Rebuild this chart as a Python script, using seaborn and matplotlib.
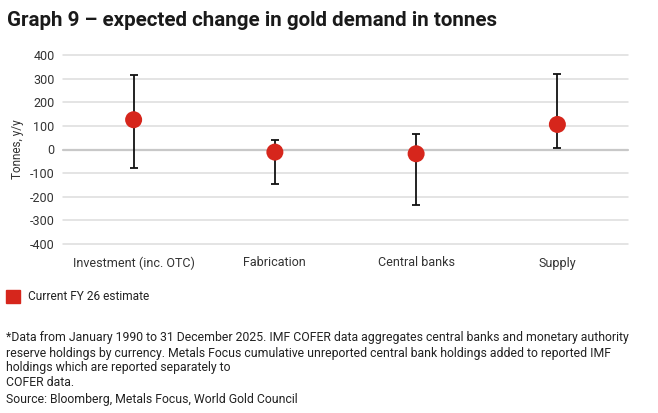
import matplotlib
matplotlib.use("Agg")
import matplotlib.pyplot as plt
import seaborn as sns
import pandas as pd
import numpy as np

categories = ["Investment (inc. OTC)", "Fabrication", "Central banks", "Supply"]
estimate = [126, -11, -18, 106]
upper = [315, 42, 64, 321]
lower = [-79, -145, -233, 7]
yticks = [-400, -300, -200, -100, 0, 100, 200, 300, 400]

sns.set_theme(style="white")
plt.rcParams['font.family'] = ['Roboto', 'DejaVu Sans']

df = pd.DataFrame({"category": categories, "estimate": estimate,
                   "upper": upper, "lower": lower})

fig = plt.figure(figsize=(6.58, 4.13), dpi=100)
ax = fig.add_axes([63/658, 1-244/413, 565/658, 189/413])

red = "#d6261c"
for t in yticks:
    ax.axhline(t, color="#c8c8c8" if t == 0 else "#dcdcdc", lw=1.6 if t == 0 else 1.1,
               zorder=0, clip_on=False)

xpos = np.arange(len(categories))
ax.errorbar(xpos, df["estimate"],
            yerr=[df["estimate"] - df["lower"], df["upper"] - df["estimate"]],
            fmt="none", ecolor="#111111", elinewidth=1.3, capsize=3, capthick=1.3, zorder=2)
sns.scatterplot(data=df, x="category", y="estimate", ax=ax, color=red, s=150,
                edgecolor="none", zorder=3, legend=False)

ax.set_xlim(-0.5, 3.5)
ax.set_ylim(-400, 400)
ax.set_yticks(yticks)
ax.set_yticklabels([str(t) for t in yticks])
ax.set_xticks(xpos)
ax.set_xticklabels(categories)
ax.tick_params(axis="both", length=0, labelsize=9, colors="#333333")
ax.tick_params(axis="y", pad=6)
ax.tick_params(axis="x", pad=9)
for s in ax.spines.values():
    s.set_visible(False)
ax.set_xlabel("")
ax.set_ylabel("Tonnes, y/y", fontsize=8.5, color="#333333", labelpad=4)

fig.text(7/658, 1-20/413, "Graph 9 \u2013 expected change in gold demand in tonnes",
         fontsize=14.8, fontweight="bold", color="#1a1a1a", va="center", ha="left")

fig.patches.append(matplotlib.patches.Rectangle((6/658, 1-303/413), 14/658, 13/413,
                   transform=fig.transFigure, color=red))
fig.text(28/658, 1-297/413, "Current FY 26 estimate", fontsize=8.6, color="#222222",
         va="center", ha="left")

foot = ["*Data from January 1990 to 31 December 2025. IMF COFER data aggregates central banks and monetary authority",
        "reserve holdings by currency. Metals Focus cumulative unreported central bank holdings added to reported IMF",
        "holdings which are reported separately to",
        "COFER data.",
        "Source: Bloomberg, Metals Focus, World Gold Council"]
ys = [337, 353, 368, 383, 399]
for line, y in zip(foot, ys):
    fig.text(6/658, 1-y/413, line, fontsize=8.8, color="#222222", va="center", ha="left")

fig.savefig("out.png", dpi=100, facecolor="white")
